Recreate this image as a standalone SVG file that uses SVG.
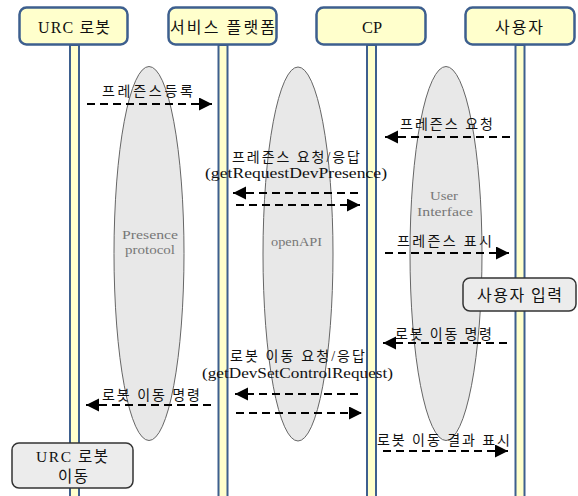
<svg xmlns="http://www.w3.org/2000/svg" width="578" height="496" viewBox="0 0 578 496">
<style>
text{font-family:"Liberation Serif","Noto Sans CJK KR",serif;fill:#111}
.hdr{fill:#ffffcc;stroke:#3d5f8e;stroke-width:2.5}
.life{fill:#ffffcc;stroke:#3d5f8e;stroke-width:2}
.oval{fill:#e8e8e8;stroke:#666;stroke-width:1}
.otext{font-size:13px;fill:#777;text-anchor:middle}
.msg{stroke:#000;stroke-width:2.2;stroke-dasharray:8 5;fill:none}
.lbl{font-size:14px}
.ht{font-size:16px;text-anchor:middle}
.act{fill:#ececec;stroke:#333;stroke-width:1.5}
</style>
<defs>
<marker id="ah" markerUnits="userSpaceOnUse" markerWidth="14" markerHeight="14" refX="13" refY="6.5" orient="auto">
<path d="M0,0 L13,6.5 L0,13 z" fill="#000"/>
</marker>
</defs>
<g id="lifelines">
<rect class="life" x="70" y="45" width="9" height="455"/>
<rect class="life" x="218.5" y="45" width="9" height="455"/>
<rect class="life" x="367" y="45" width="9" height="455"/>
<rect class="life" x="515.5" y="45" width="9" height="455"/>
</g>
<g id="presence-protocol">
<ellipse class="oval" cx="149" cy="253.5" rx="35" ry="187"/>
<text class="otext" x="150" y="239" textLength="56" lengthAdjust="spacingAndGlyphs">Presence</text>
<text class="otext" x="150" y="254" textLength="50" lengthAdjust="spacingAndGlyphs">protocol</text>
</g>
<g id="openapi">
<ellipse class="oval" cx="298" cy="254" rx="35" ry="187"/>
<text class="otext" x="296.5" y="246" textLength="51" lengthAdjust="spacingAndGlyphs">openAPI</text>
</g>
<g id="user-interface">
<ellipse class="oval" cx="446" cy="253.5" rx="36" ry="187"/>
<text class="otext" x="444" y="200" textLength="28" lengthAdjust="spacingAndGlyphs">User</text>
<text class="otext" x="445" y="216" textLength="56" lengthAdjust="spacingAndGlyphs">Interface</text>
</g>
<g id="connectors">
<line class="msg" x1="87" y1="104" x2="212" y2="104" marker-end="url(#ah)"/>
<line class="msg" x1="510" y1="137" x2="385" y2="137" marker-end="url(#ah)"/>
<line class="msg" x1="358" y1="193" x2="233" y2="193" marker-end="url(#ah)"/>
<line class="msg" x1="236" y1="205" x2="360" y2="205" marker-end="url(#ah)"/>
<line class="msg" x1="385" y1="253" x2="509" y2="253" marker-end="url(#ah)"/>
<line class="msg" x1="507" y1="343" x2="383" y2="343" marker-end="url(#ah)"/>
<line class="msg" x1="358" y1="394" x2="235" y2="394" marker-end="url(#ah)"/>
<line class="msg" x1="236" y1="413" x2="362" y2="413" marker-end="url(#ah)"/>
<line class="msg" x1="211" y1="405" x2="86" y2="405" marker-end="url(#ah)"/>
<line class="msg" x1="383" y1="451" x2="508" y2="451" marker-end="url(#ah)"/>
</g>
<g id="labels">
<text class="lbl" x="102" y="96" textLength="91" lengthAdjust="spacing">프레즌스등록</text>
<text class="lbl" x="400" y="129" textLength="93" lengthAdjust="spacing">프레즌스 요청</text>
<text class="lbl" x="232" y="162" textLength="128" lengthAdjust="spacing">프레즌스 요청/응답</text>
<text class="lbl" x="205" y="178" textLength="182" lengthAdjust="spacingAndGlyphs">(getRequestDevPresence)</text>
<text class="lbl" x="397" y="246" textLength="95" lengthAdjust="spacing">프레즌스 표시</text>
<text class="lbl" x="395" y="339" textLength="97" lengthAdjust="spacing">로봇 이동 명령</text>
<text class="lbl" x="230" y="361" textLength="135" lengthAdjust="spacing">로봇 이동 요청/응답</text>
<text class="lbl" x="202" y="378" textLength="191" lengthAdjust="spacingAndGlyphs">(getDevSetControlRequest)</text>
<text class="lbl" x="102" y="400" textLength="98" lengthAdjust="spacing">로봇 이동 명령</text>
<text class="lbl" x="377" y="445" textLength="133" lengthAdjust="spacing">로봇 이동 결과 표시</text>
</g>
<g id="user-input">
<rect class="act" x="463" y="278" width="113" height="33" rx="7"/>
<text x="519.5" y="301" font-size="16" text-anchor="middle" textLength="85" lengthAdjust="spacing">사용자 입력</text>
</g>
<g id="robot-move">
<rect class="act" x="12" y="443" width="121" height="45" rx="7"/>
<text x="72" y="462" font-size="15.5" text-anchor="middle" textLength="72" lengthAdjust="spacing">URC 로봇</text>
<text x="73" y="482" font-size="15.5" text-anchor="middle" textLength="30" lengthAdjust="spacing">이동</text>
</g>
<g id="urc-robot">
<rect class="hdr" x="19.5" y="7.5" width="108" height="37" rx="7"/>
<text class="ht" x="74" y="33" textLength="72" lengthAdjust="spacing">URC 로봇</text>
</g>
<g id="service-platform">
<rect class="hdr" x="168.5" y="7.5" width="108" height="37" rx="7"/>
<text class="ht" x="222.5" y="33" textLength="105" lengthAdjust="spacing">서비스 플랫폼</text>
</g>
<g id="cp">
<rect class="hdr" x="316.5" y="7.5" width="109" height="37" rx="7"/>
<text class="ht" x="372" y="33" textLength="20" lengthAdjust="spacingAndGlyphs">CP</text>
</g>
<g id="user">
<rect class="hdr" x="465.5" y="7.5" width="109" height="37" rx="7"/>
<text class="ht" x="519" y="33" textLength="48" lengthAdjust="spacing">사용자</text>
</g>
</svg>
